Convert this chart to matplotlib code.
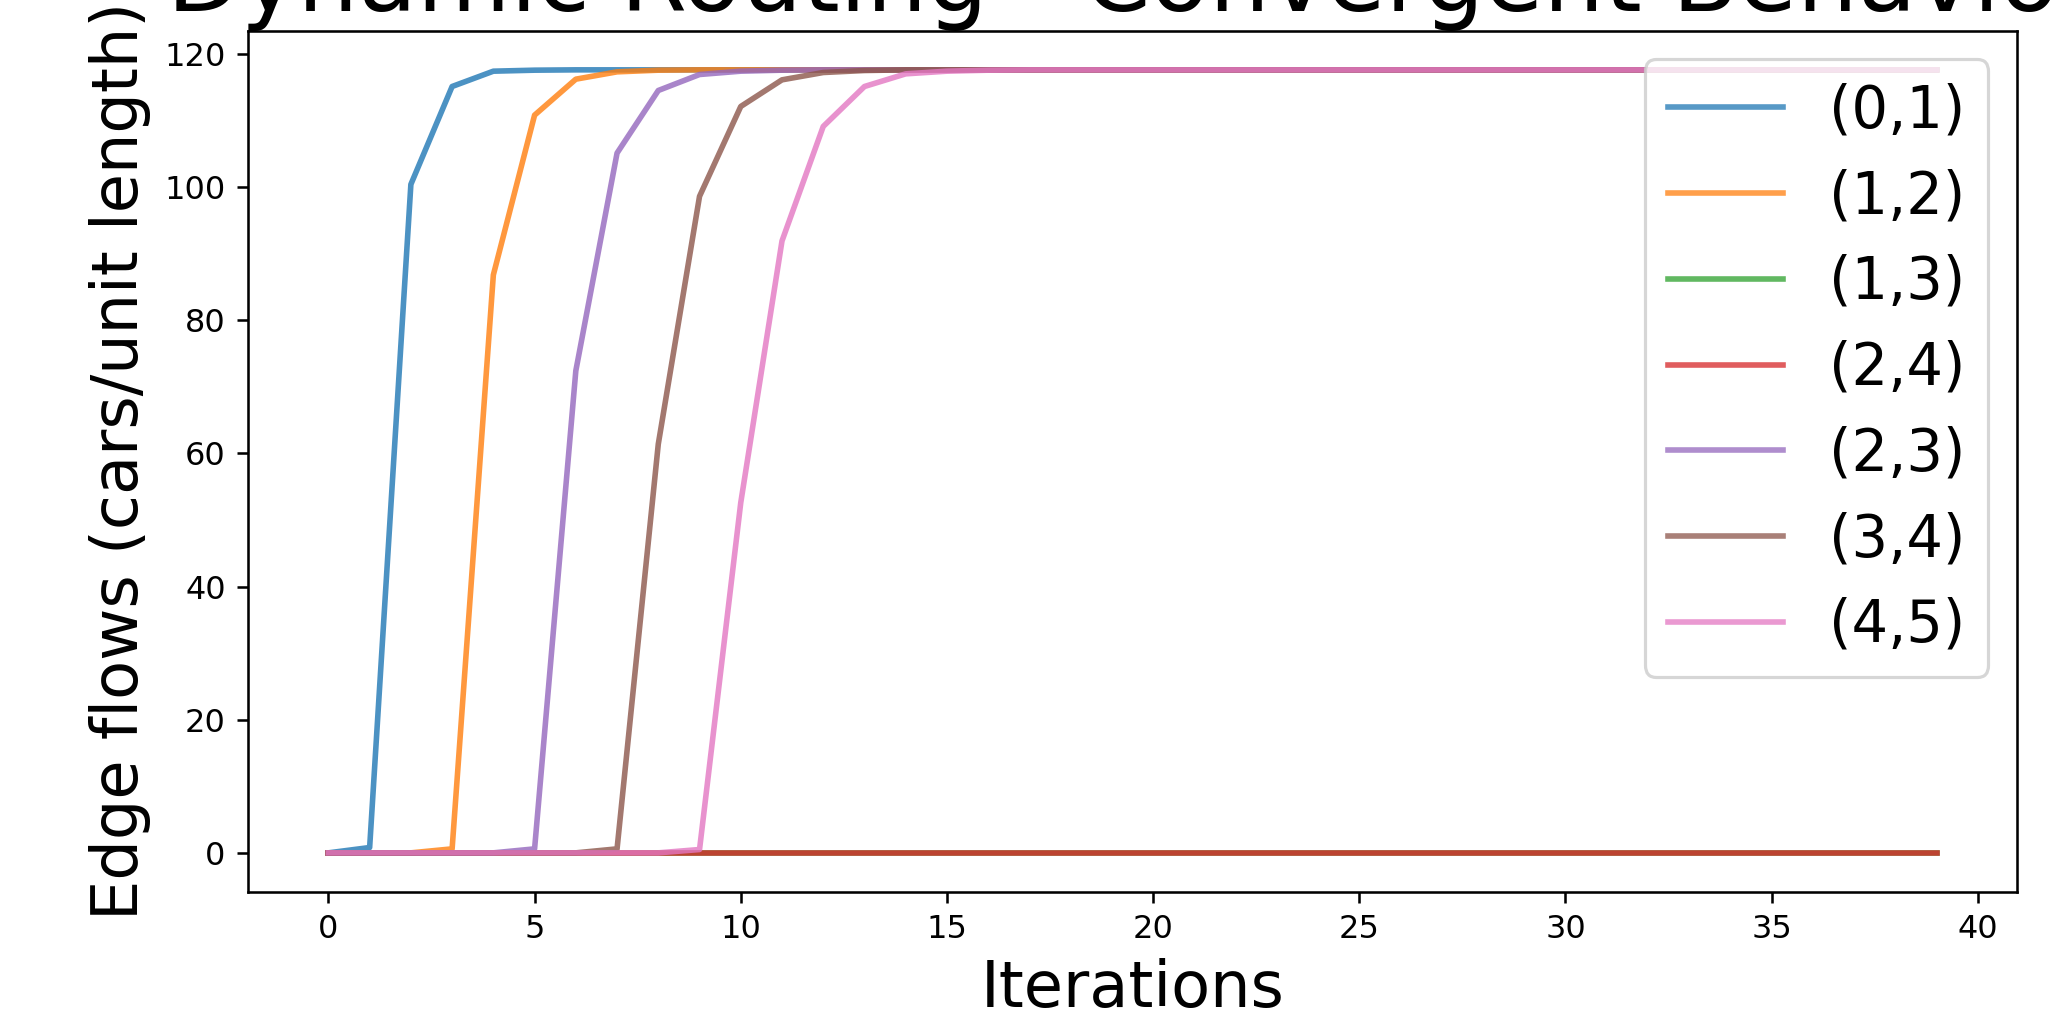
import matplotlib
matplotlib.use("Agg")
import matplotlib.pyplot as plt
import numpy as np

iterations = list(range(40))
plateau = 117.6

edge_labels = ["(0,1)", "(1,2)", "(1,3)", "(2,4)", "(2,3)", "(3,4)", "(4,5)"]

flow_01 = [0.0, 0.8, 100.4, 115.1, 117.4, 117.55] + [plateau] * 34
flow_12 = [0.0, 0.0, 0.0, 0.6, 86.8, 110.8, 116.2, 117.3, 117.55] + [plateau] * 31
flow_13 = [0.0] * 40
flow_24 = [0.0] * 40
flow_23 = [0.0, 0.0, 0.0, 0.0, 0.0, 0.6, 72.4, 105.1, 114.5, 116.9, 117.4, 117.55] + [plateau] * 28
flow_34 = [0.0] * 7 + [0.6, 61.4, 98.6, 112.1, 116.1, 117.2, 117.5] + [plateau] * 26
flow_45 = [0.0] * 9 + [0.5, 52.6, 91.9, 109.1, 115.1, 117.0, 117.4, 117.55] + [plateau] * 23

series = [flow_01, flow_12, flow_13, flow_24, flow_23, flow_34, flow_45]

DPI = 230
fig = plt.figure(figsize=(2052 / DPI, 1009 / DPI), dpi=DPI)
ax = fig.add_axes([248 / 2052, 117 / 1009, (2017 - 248) / 2052, (892 - 30.7) / 1009])

for vals, lab in zip(series, edge_labels):
    ax.plot(iterations, vals, label=lab, alpha=0.8, linewidth=1.75)

ax.set_title("Dynamic Routing - Convergent Behavior", fontsize=30)
ax.set_xlabel("Iterations", fontsize=20)
ax.set_ylabel("Edge flows (cars/unit length)", fontsize=20)
ax.tick_params(labelsize=10)
leg = ax.legend(loc="upper right", fontsize=18)
for h in leg.get_lines():
    h.set_alpha(0.75)

fig.savefig("out.png", dpi=DPI)
